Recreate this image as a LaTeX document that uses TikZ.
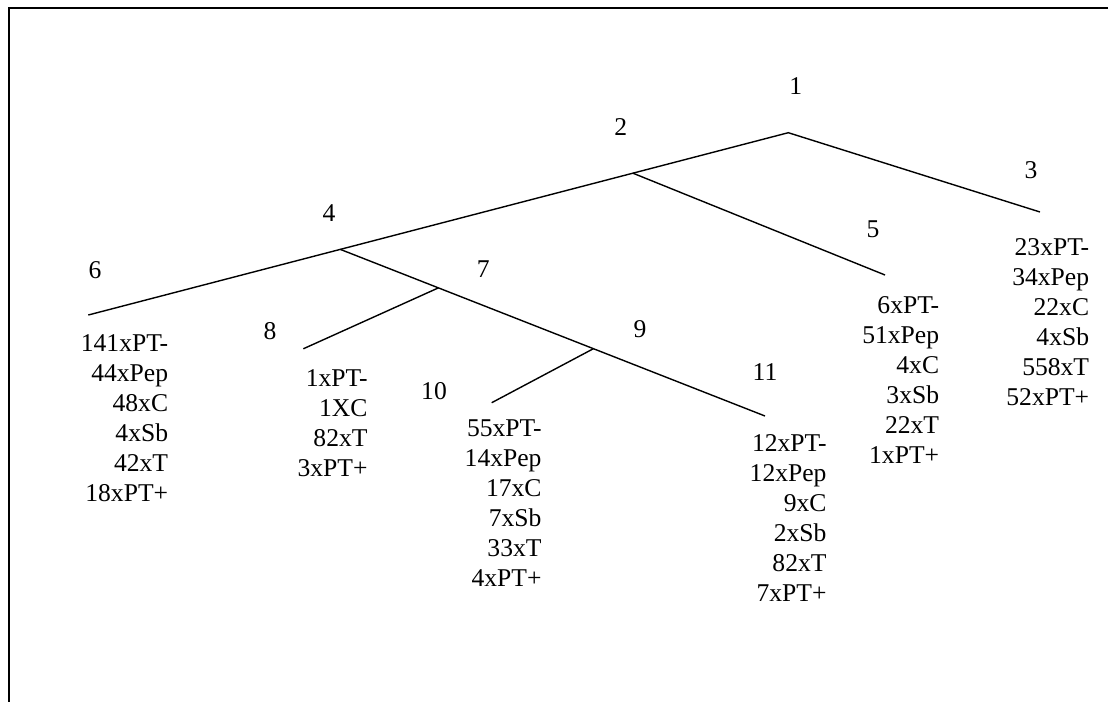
\documentclass[tikz,border=0pt]{standalone}
\usepackage{fontspec}
\setmainfont{Liberation Serif}
\usetikzlibrary{calc}
\begin{document}
\begin{tikzpicture}[x=1pt,y=-1pt,
  branch/.style={line width=1.4pt},
  frameline/.style={line width=2pt},
  lbl/.style={inner sep=0pt,font=\fontsize{25.6}{30}\selectfont},
  col/.style={inner sep=0pt,align=right,anchor=base east,font=\fontsize{25.6}{30}\selectfont}]
\useasboundingbox (0,0) rectangle (1111,702);
% frame (top and left edges only)
\coordinate (ftr) at (1108,7.8);
\coordinate (ftl) at (9,7.8);
\coordinate (fbl) at (9,702);
\draw[frameline] (ftr) -- (ftl) -- (fbl);
% tree points
\coordinate (n1) at (788.3,132.7);
\coordinate (e3) at (1040,212);
\coordinate (e6) at (88.3,315);
\coordinate (e5) at (885,275);
\coordinate (e8) at (303.3,348.8);
\coordinate (e10) at (491.7,402.7);
\coordinate (e11) at (765,416);
\coordinate (j2) at ($(n1)!0.222!(e6)$);
\coordinate (j4) at ($(n1)!0.640!(e6)$);
\coordinate (j7) at ($(j4)!0.231!(e11)$);
\coordinate (j9) at ($(j4)!0.596!(e11)$);
\draw[branch] (e3) -- (n1) -- (e6);
\draw[branch] (j2) -- (e5);
\draw[branch] (j4) -- (e11);
\draw[branch] (j7) -- (e8);
\draw[branch] (j9) -- (e10);
% labels
\node[lbl] (l1) at (795.7,86) {1};
\node[lbl] (l2) at (620.7,126.7) {2};
\node[lbl] (l3) at (1031,170) {3};
\node[lbl] (l4) at (329,213) {4};
\node[lbl] (l5) at (873,229) {5};
\node[lbl] (l6) at (95,270) {6};
\node[lbl] (l7) at (483.3,269.3) {7};
\node[lbl] (l8) at (270,330.7) {8};
\node[lbl] (l9) at (640,329) {9};
\node[lbl] (l10) at (434,391) {10};
\node[lbl] (l11) at (765,372) {11};
% columns (anchor is the baseline of the last line)
\node[col] (c6) at (168.3,501.7) {141xPT-\\44xPep\\48xC\\4xSb\\42xT\\18xPT+};
\node[col] (c8) at (367.7,476.7) {1xPT-\\1XC\\82xT\\3xPT+};
\node[col] (c10) at (541.7,586.7) {55xPT-\\14xPep\\17xC\\7xSb\\33xT\\4xPT+};
\node[col] (c11) at (826.7,601.7) {12xPT-\\12xPep\\9xC\\2xSb\\82xT\\7xPT+};
\node[col] (c5) at (939.3,463.7) {6xPT-\\51xPep\\4xC\\3xSb\\22xT\\1xPT+};
\node[col] (c3) at (1089.3,405.3) {23xPT-\\34xPep\\22xC\\4xSb\\558xT\\52xPT+};
\end{tikzpicture}
\end{document}
